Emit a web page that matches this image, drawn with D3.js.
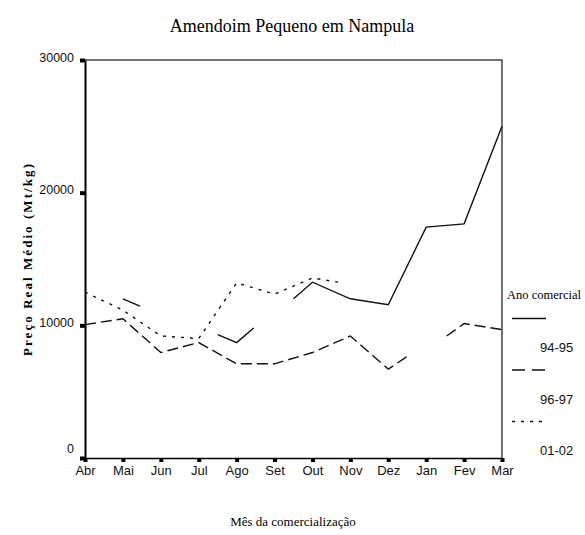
<!DOCTYPE html>
<html>
<head>
    <meta charset="UTF-8">
    <title>Amendoim Pequeno em Nampula</title>
    <style>
        body {
            margin: 0;
            background-color: white;
        }
        svg {
            display: block;
        }
        .serif {
            font-family: "Liberation Serif", "Times New Roman", serif;
            fill: black;
        }
        .sans {
            font-family: "Liberation Sans", Arial, sans-serif;
            fill: #111;
        }
    </style>
</head>
<body>
    <svg id="chart" width="585" height="535"></svg>

    <script src="https://d3js.org/d3.v7.min.js"></script>
    <script>
        // Months of the marketing year (x categories)
        var months = ["Abr", "Mai", "Jun", "Jul", "Ago", "Set", "Out", "Nov", "Dez", "Jan", "Fev", "Mar"];
        var yTicks = [0, 10000, 20000, 30000];

        // [month index, price]; null = gap in the line (as drawn in the original)
        var serie9495 = [[1, 12000], [1.45, 11450], null,
                         [3.5, 9300], [4, 8700], [4.45, 9800], null,
                         [5.5, 12000], [6, 13250], [7, 12000], [8, 11550], [9, 17400], [10, 17650], [11, 25000]];
        var serie9697 = [[0, 10050], [1, 10500], [2, 7950], [3, 8700], [4, 7100], [5, 7100],
                         [6, 7950], [7, 9200], [8, 6700], [8.5, 7650], null,
                         [9.54, 9200], [10, 10130], [11, 9680]];
        var serie0102 = [[0, 12500], [1, 11150], [2, 9200], [3, 9000], [4, 13200], [5, 12350],
                         [6, 13570], [6.8, 13200]];

        var seriesNames = ["94-95", "96-97", "01-02"];
        var seriesData = [serie9495, serie9697, serie0102];
        var dashes = [null, "11,5", "3,6"];
        var legendDashes = [null, "13,7", "3,6"];

        var svg = d3.select("#chart");

        // plot box
        var pLeft = 85, pRight = 502, pTop = 60, pBottom = 458;

        var x = d3.scaleLinear().domain([0, months.length - 1]).range([pLeft, pRight]);
        var y = d3.scaleLinear().domain([0, 30000]).range([pBottom, pTop]);

        // Title
        svg.append("text")
            .attr("class", "serif")
            .attr("x", 292)
            .attr("y", 32)
            .attr("text-anchor", "middle")
            .style("font-size", "18px")
            .text("Amendoim Pequeno em Nampula");

        // Frame (top & right)
        svg.append("path")
            .attr("d", "M" + pLeft + "," + pTop + "H" + pRight + "V" + pBottom)
            .attr("fill", "none")
            .attr("stroke", "#444")
            .attr("stroke-width", 1.5);

        // Y axis
        var yAxis = d3.axisLeft(y)
            .tickValues(yTicks)
            .tickSize(0)
            .tickPadding(11)
            .tickFormat(d3.format("d"));
        var yg = svg.append("g")
            .attr("transform", "translate(" + pLeft + ",0)")
            .call(yAxis);
        yg.select(".domain").attr("stroke", "black").attr("stroke-width", 2);
        yg.selectAll(".tick text")
            .attr("class", "sans")
            .style("font-size", "12.5px")
            .attr("dy", function(d) { return d === 0 ? "-0.45em" : "0.1em"; });
        yg.selectAll(".tick").append("rect")
            .attr("x", -5).attr("y", -2).attr("width", 5).attr("height", 4)
            .attr("fill", "black");

        // X axis
        var xAxis = d3.axisBottom(x)
            .tickValues(d3.range(months.length))
            .tickSize(0)
            .tickPadding(8)
            .tickFormat(function(i) { return months[i]; });
        var xg = svg.append("g")
            .attr("transform", "translate(0," + pBottom + ")")
            .call(xAxis);
        xg.select(".domain").attr("stroke", "black").attr("stroke-width", 1.5);
        xg.selectAll(".tick text")
            .attr("class", "sans")
            .style("font-size", "13px");
        xg.selectAll(".tick").append("rect")
            .attr("x", -2).attr("y", 0).attr("width", 4).attr("height", 4)
            .attr("fill", "black");

        // Axis titles
        svg.append("text")
            .attr("class", "serif")
            .attr("transform", "translate(32,260) rotate(-90)")
            .attr("text-anchor", "middle")
            .attr("textLength", 192)
            .attr("lengthAdjust", "spacing")
            .style("font-size", "13px")
            .style("font-weight", "bold")
            .text("Preço Real Médio (Mt/kg)");

        svg.append("text")
            .attr("class", "serif")
            .attr("x", 293)
            .attr("y", 526)
            .attr("text-anchor", "middle")
            .style("font-size", "13px")
            .text("Mês da comercialização");

        // Lines
        var line = d3.line()
            .defined(function(d) { return d !== null; })
            .x(function(d) { return x(d[0]); })
            .y(function(d) { return y(d[1]); });

        svg.selectAll("path.serie")
            .data(seriesData)
            .enter().append("path")
            .attr("class", "serie")
            .attr("d", line)
            .attr("fill", "none")
            .attr("stroke", "#111")
            .attr("stroke-width", 1.4)
            .attr("stroke-dasharray", function(d, i) { return dashes[i]; });

        // Legend
        svg.append("text")
            .attr("class", "serif")
            .attr("x", 507)
            .attr("y", 299)
            .style("font-size", "12.5px")
            .text("Ano comercial");

        var leg = svg.selectAll("g.leg")
            .data(seriesNames)
            .enter().append("g")
            .attr("class", "leg")
            .attr("transform", function(d, i) { return "translate(0," + (i * 51.5) + ")"; });

        leg.append("line")
            .attr("x1", 512).attr("x2", 546)
            .attr("y1", 318.5).attr("y2", 318.5)
            .attr("stroke", "#111")
            .attr("stroke-width", 1.6)
            .attr("stroke-dasharray", function(d, i) { return legendDashes[i]; });

        leg.append("text")
            .attr("class", "sans")
            .attr("x", 540)
            .attr("y", 352)
            .style("font-size", "13px")
            .text(function(d) { return d; });
    </script>
</body>
</html>
